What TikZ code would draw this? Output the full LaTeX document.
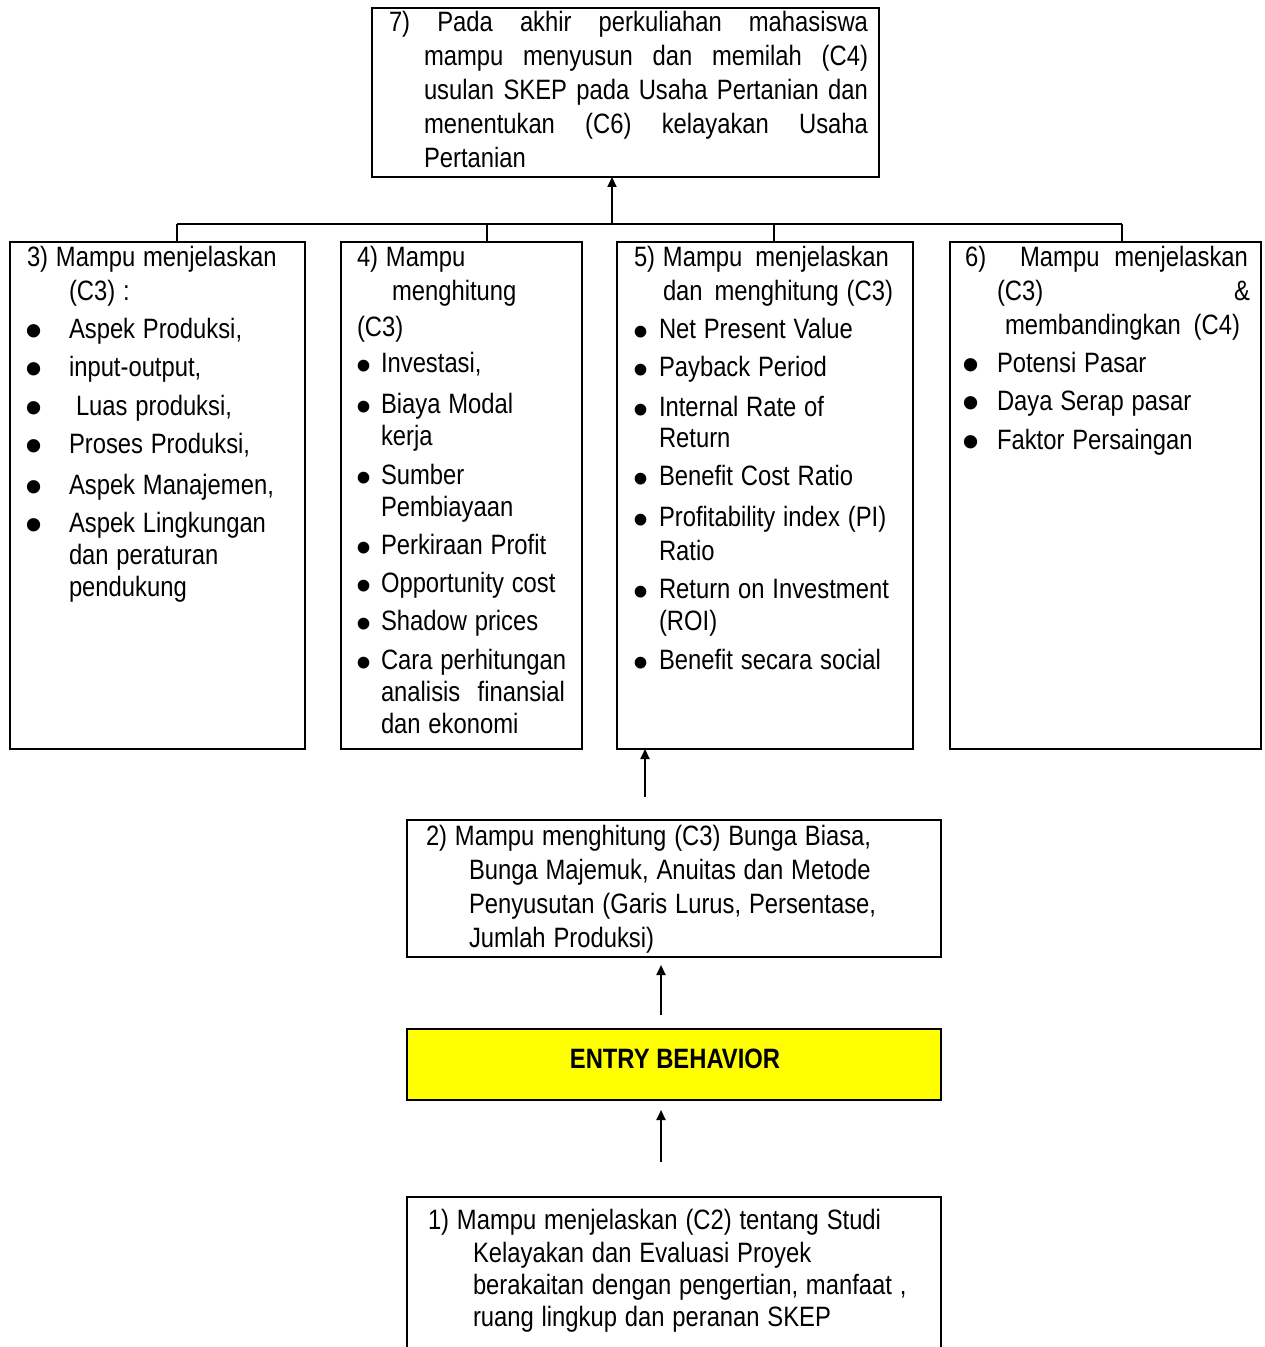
\documentclass[tikz,border=0pt]{standalone}
\usepackage{fontspec}
\usepackage{graphicx}
\setmainfont{Liberation Sans}[FakeStretch=0.85]
\usetikzlibrary{arrows.meta,fit}
% bullet centred at #1 from the line start, text starting at #2
\newcommand{\bulA}[3]{\hspace*{#1}\makebox[0pt]{\smash{\raisebox{-4.3pt}{\scalebox{2.05}[1.75]{\textbullet}}}}\hspace*{\dimexpr#2-#1\relax}#3}
\newcommand{\bulB}[3]{\hspace*{#1}\makebox[0pt]{\smash{\raisebox{-3.9pt}{\scalebox{1.8}[1.55]{\textbullet}}}}\hspace*{\dimexpr#2-#1\relax}#3}
\newcommand{\tsp}{\spaceskip=3.9pt plus 1pt minus 0.5pt\relax}
\begin{document}
\begin{tikzpicture}[x=0.5pt,y=-0.5pt]
\tikzset{
 box/.style={draw, line width=1.15pt, inner sep=0pt, outer sep=0pt},
 txt/.style={anchor=north west, inner sep=0pt, outer sep=0pt, align=left, font=\fontsize{14}{17}\selectfont},
 conn/.style={line width=1.1pt},
 arr/.style={line width=1pt, -{Triangle[length=5pt,width=4.5pt]}},
}
\useasboundingbox (0,0) rectangle (1264,1347);
\clip (0,0) rectangle (1264,1347);
% boxes
\node[box, fit={(372,8) (879,177)}] (b7) {};
\node[box, fit={(10,242) (305,749)}] (b3) {};
\node[box, fit={(341,242) (582,749)}] (b4) {};
\node[box, fit={(617,242) (913,749)}] (b5) {};
\node[box, fit={(950,242) (1261,749)}] (b6) {};
\node[box, fit={(407,820) (941,957)}] (b2) {};
\node[box, fill={rgb,255:red,255;green,255;blue,0}, fit={(407,1029) (941,1100)}] (be) {};
\node[box, fit={(407,1197) (941,1360)}] (b1) {};
% texts
\node[txt, text width=250pt] (t7) at (389,8.2) {\strut\makebox[239.5pt]{7)\hfill Pada\hfill akhir\hfill perkuliahan\hfill mahasiswa}\\
\hspace*{17.5pt}\makebox[222pt]{mampu\hfill menyusun\hfill dan\hfill memilah\hfill (C4)}\\
\hspace*{17.5pt}\makebox[222pt]{usulan\hfill SKEP\hfill pada\hfill Usaha\hfill Pertanian\hfill dan}\\
\hspace*{17.5pt}\makebox[222pt]{menentukan\hfill (C6)\hfill kelayakan\hfill Usaha}\\
\hspace*{17.5pt}Pertanian};
\node[txt, text width=140pt] (t3) at (27,243.2) {\tsp\strut 3) Mampu menjelaskan\\
\hspace*{21pt}(C3) :\\[2pt]
\bulA{3.5pt}{21pt}{Aspek Produksi,}\\[2pt]
\bulA{3.5pt}{21pt}{input-output,}\\[2.5pt]
\bulA{3.5pt}{24.5pt}{Luas produksi,}\\[2pt]
\bulA{3.5pt}{21pt}{Proses Produksi,}\\[3.5pt]
\bulA{3.5pt}{21pt}{Aspek Manajemen,}\\[2pt]
\bulA{3.5pt}{21pt}{Aspek Lingkungan}\\[-1pt]
\hspace*{21pt}dan peraturan\\[-1pt]
\hspace*{21pt}pendukung};
\node[txt, text width=115pt] (t4) at (357,243.2) {\tsp\strut 4) Mampu\\
\hspace*{17.5pt}menghitung\\[1pt]
(C3)\\[1pt]
\bulB{3.5pt}{12pt}{Investasi,}\\[3.5pt]
\bulB{3.5pt}{12pt}{Biaya Modal}\\[-1pt]
\hspace*{12pt}kerja\\[2.5pt]
\bulB{3.5pt}{12pt}{Sumber}\\[-1pt]
\hspace*{12pt}Pembiayaan\\[2pt]
\bulB{3.5pt}{12pt}{Perkiraan Profit}\\[2pt]
\bulB{3.5pt}{12pt}{Opportunity cost}\\[2pt]
\bulB{3.5pt}{12pt}{Shadow prices}\\[2.5pt]
\bulB{3.5pt}{12pt}{Cara perhitungan}\\[-1pt]
\hspace*{12pt}\makebox[92pt]{analisis\hfill finansial}\\[-1pt]
\hspace*{12pt}dan ekonomi};
\node[txt, text width=140pt] (t5) at (634,243.2) {\tsp\strut\makebox[127.5pt]{5) Mampu\hfill menjelaskan}\\
\hspace*{14.5pt}\makebox[115pt]{dan\hfill menghitung (C3)}\\[2pt]
\bulB{3.5pt}{12.5pt}{Net Present Value}\\[2pt]
\bulB{3.5pt}{12.5pt}{Payback Period}\\[3pt]
\bulB{3.5pt}{12.5pt}{Internal Rate of}\\[-1.5pt]
\hspace*{12.5pt}Return\\[2pt]
\bulB{3.5pt}{12.5pt}{Benefit Cost Ratio}\\[3.5pt]
\bulB{3.5pt}{12.5pt}{Profitability index (PI)}\\
\hspace*{12.5pt}Ratio\\[2pt]
\bulB{3.5pt}{12.5pt}{Return on Investment}\\[-1pt]
\hspace*{12.5pt}(ROI)\\[2.5pt]
\bulB{3.5pt}{12.5pt}{Benefit secara social}};
\node[txt, text width=150pt] (t6) at (965,243.2) {\tsp\strut\makebox[141.5pt]{6)\hspace{17pt}Mampu\hfill menjelaskan}\\
\hspace*{16pt}\makebox[126.5pt]{(C3)\hfill\&}\\
\hspace*{20pt}\makebox[117.5pt]{membandingkan\hfill (C4)}\\[2pt]
\bulA{3pt}{16pt}{Potensi Pasar}\\[2pt]
\bulA{3pt}{16pt}{Daya Serap pasar}\\[2.5pt]
\bulA{3pt}{16pt}{Faktor Persaingan}};
\node[txt, text width=260pt] (t2) at (426,821.2) {\tsp\strut 2) Mampu menghitung (C3) Bunga Biasa,\\
\hspace*{21.5pt}Bunga Majemuk, Anuitas dan Metode\\
\hspace*{21.5pt}Penyusutan (Garis Lurus, Persentase,\\
\hspace*{21.5pt}Jumlah Produksi)};
\node[inner sep=0pt, font=\fontsize{14}{17}\selectfont\bfseries] (te) at (675,1059) {ENTRY BEHAVIOR};
\node[txt, text width=260pt] (t1) at (428,1205.2) {\tsp\strut 1) Mampu menjelaskan (C2) tentang Studi\\[-0.5pt]
\hspace*{22.5pt}Kelayakan dan Evaluasi Proyek\\[-1pt]
\hspace*{22.5pt}berakaitan dengan pengertian, manfaat ,\\[-1pt]
\hspace*{22.5pt}ruang lingkup dan peranan SKEP};
% connectors
\coordinate (j3) at (177,224);
\coordinate (j4) at (487,224);
\coordinate (j5) at (774,224);
\coordinate (j6) at (1122,224);
\coordinate (j7) at (612,224);
\draw[conn] (j3) -- (j6);
\draw[conn] (j3) -- (j3 |- b3.north);
\draw[conn] (j4) -- (j4 |- b4.north);
\draw[conn] (j5) -- (j5 |- b5.north);
\draw[conn] (j6) -- (j6 |- b6.north);
\draw[arr] (j7) -- (j7 |- b7.south);
\coordinate (a25) at (645,797);
\draw[arr] (a25) -- (a25 |- b5.south);
\coordinate (ae2) at (661,1015);
\coordinate (ae2t) at (661,965);
\draw[arr] (ae2) -- (ae2t);
\coordinate (a1e) at (661,1162);
\coordinate (a1et) at (661,1110);
\draw[arr] (a1e) -- (a1et);
\end{tikzpicture}
\end{document}
